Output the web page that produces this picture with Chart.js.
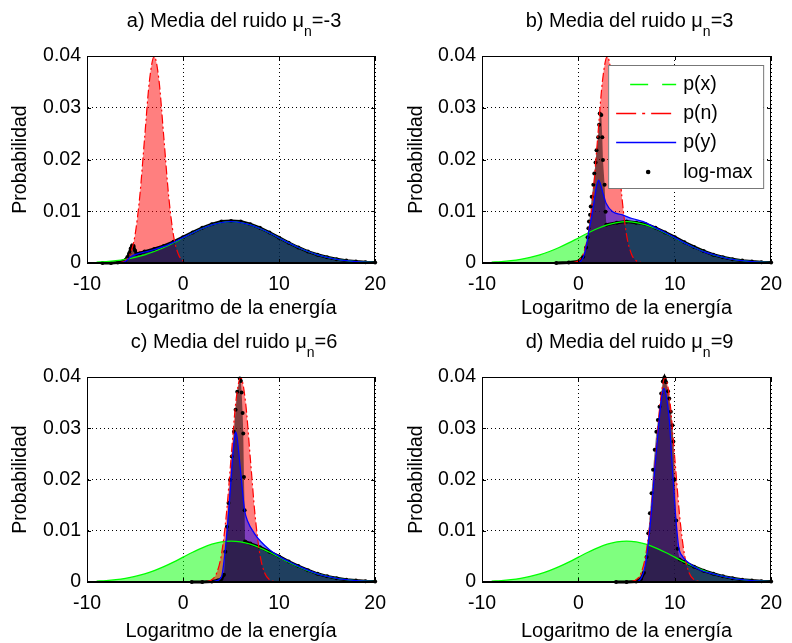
<!DOCTYPE html>
<html>
<head>
<meta charset="utf-8">
<title>Media del ruido - log-max</title>
<script src="https://cdn.jsdelivr.net/npm/chart.js@4.4.0/dist/chart.umd.min.js"></script>
<style>
  html, body { margin: 0; padding: 0; background: #fff; }
  #wrap { position: relative; width: 792px; height: 643px; overflow: hidden; }
  #wrap canvas { position: absolute; }
</style>
</head>
<body>
<div id="wrap">
  <canvas id="chartA" width="396" height="323" style="left:0;top:0"></canvas>
  <canvas id="chartB" width="396" height="323" style="left:396px;top:0"></canvas>
  <canvas id="chartC" width="396" height="322" style="left:0;top:321px"></canvas>
  <canvas id="chartD" width="396" height="322" style="left:396px;top:321px"></canvas>
</div>
<script>
// etiquetas y ejes
const panelLetters = ['a', 'b', 'c', 'd'];
const noiseMeans = [-3, 3, 6, 9];
const xTickValues = [-10, 0, 10, 20];
const xTickLabels = ['-10', '0', '10', '20'];
const yTickValues = [0, 0.01, 0.02, 0.03, 0.04];
const yTickLabels = ['0', '0.01', '0.02', '0.03', '0.04'];
const legendLabels = ['p(x)', 'p(n)', 'p(y)', 'log-max'];

// p(x): igual en los cuatro paneles
const pxX = [-9, -8, -7, -6, -5, -4, -3, -2, -1, 0, 1, 2, 3, 4, 5, 6, 7, 8, 9, 10, 11, 12, 13, 14, 15, 16, 17, 18, 19, 20];
const pxY = [0.00016, 0.00027, 0.00045, 0.00071, 0.00108, 0.00158, 0.00222, 0.00299, 0.00388, 0.00484, 0.0058, 0.00667, 0.00737, 0.00782, 0.00798,
  0.00782, 0.00737, 0.00667, 0.0058, 0.00484, 0.00388, 0.00299, 0.00222, 0.00158, 0.00108, 0.00071, 0.00045, 0.00027, 0.00016, 0.00009];

// p(n): misma forma, distinta media
const noiseY = [0.00009, 0.00044, 0.00175, 0.0054, 0.013, 0.0242, 0.0352, 0.0399, 0.0352, 0.0242, 0.013, 0.0054, 0.00175, 0.00044, 0.00009];
const noiseXa = [-6.5, -6, -5.5, -5, -4.5, -4, -3.5, -3, -2.5, -2, -1.5, -1, -0.5, 0, 0.5];
const noiseXb = [-0.5, 0, 0.5, 1, 1.5, 2, 2.5, 3, 3.5, 4, 4.5, 5, 5.5, 6, 6.5];
const noiseXc = [2.5, 3, 3.5, 4, 4.5, 5, 5.5, 6, 6.5, 7, 7.5, 8, 8.5, 9, 9.5];
const noiseXd = [5.5, 6, 6.5, 7, 7.5, 8, 8.5, 9, 9.5, 10, 10.5, 11, 11.5, 12, 12.5];

// p(y)
const pyXa = [-6.5, -6, -5.5, -5, -4, -3, -2, -1, 0, 1, 2, 3, 4, 5, 6, 7, 8, 9, 10, 11, 12, 13, 14, 15, 16, 17, 18, 19, 20];
const pyYa = [0, 0.0003, 0.0011, 0.0016, 0.0021, 0.0026, 0.0032, 0.004, 0.0049, 0.0058, 0.00667, 0.00737, 0.00782, 0.00798, 0.00782,
  0.00737, 0.00667, 0.0058, 0.00484, 0.00388, 0.00299, 0.00222, 0.00158, 0.00108, 0.00071, 0.00045, 0.00027, 0.00016, 0.00009];
const pyXb = [0, 0.2, 0.54, 0.87, 1.1, 1.38, 1.71, 1.9, 2.11, 2.3, 2.55, 2.89, 3.56, 4.57, 5.57, 6.74, 8, 9, 10, 11, 12, 13, 14, 15, 16, 17, 18, 19, 20];
const pyYb = [0, 0.0003, 0.0012, 0.0038, 0.0064, 0.0089, 0.0128, 0.015, 0.016, 0.0152, 0.0135, 0.0115, 0.0099, 0.0093, 0.0086, 0.008,
  0.0068, 0.0059, 0.0049, 0.0039, 0.003, 0.0022, 0.0016, 0.0011, 0.00071, 0.00045, 0.00027, 0.00016, 0.00009];
const pyXc = [3, 3.4, 4, 4.35, 4.6, 4.8, 4.98, 5.17, 5.35, 5.47, 5.6, 5.74, 6.08, 6.41, 6.74, 7.42, 8.09, 9, 10, 11, 12, 13, 14, 15, 16, 17, 18, 19, 20];
const pyYc = [0, 0.0002, 0.001, 0.0055, 0.0105, 0.015, 0.0195, 0.0245, 0.028, 0.0293, 0.0285, 0.0264, 0.0199, 0.014, 0.0118, 0.0095, 0.0079,
  0.0063, 0.005, 0.004, 0.0031, 0.0023, 0.0016, 0.0011, 0.00071, 0.00045, 0.00027, 0.00016, 0.00009];
const pyXd = [5.9, 6.24, 6.58, 6.91, 7.25, 7.59, 7.92, 8.3, 8.6, 8.86, 9.1, 9.43, 9.76, 10.1, 10.4, 10.8, 11.27, 12, 12.95, 14, 15, 16, 17, 18, 19, 20];
const pyYd = [0, 0.0002, 0.001, 0.003, 0.0075, 0.014, 0.0219, 0.03, 0.0355, 0.0378, 0.0365, 0.0316, 0.0219, 0.0127, 0.0069, 0.005, 0.004, 0.003, 0.0021,
  0.0016, 0.0011, 0.00071, 0.00045, 0.00027, 0.00016, 0.00009];

// aproximacion log-max
const lmXa = [-8.4, -7.5, -6.8, -6.3, -6, -5.8, -5.6, -5.45, -5.3, -5.15, -5, -4.85, -4.5, -4,
  -3, -2, -1, 0, 1, 2, 3, 4, 5, 6, 7, 8, 9, 10, 11, 12, 13, 14, 15, 16, 17, 18, 19, 20];
const lmYa = [0, 0, 0.0001, 0.0003, 0.0006, 0.0011, 0.0019, 0.0028, 0.0034, 0.0033, 0.0024, 0.0018, 0.0019, 0.0022,
  0.0027, 0.0033, 0.0041, 0.005, 0.0059, 0.0068, 0.0075, 0.008, 0.0081, 0.008, 0.0075, 0.0068, 0.0059, 0.0049, 0.0039, 0.003, 0.0022, 0.0016, 0.0011, 0.00072, 0.00046, 0.00028, 0.00016, 0.0001];
const lmXb = [-2.3, -1, 0, 0.5, 0.8, 0.95, 1.04, 1.1, 1.21, 1.28, 1.38, 1.55, 1.65, 1.78, 1.88, 2.05, 2.15, 2.21, 2.38, 2.48, 2.55, 2.72, 2.82, 2.9,
  4, 5, 6, 7, 8, 9, 10, 11, 12, 13, 14, 15, 16, 17, 18, 19, 20];
const lmYb = [0, 0.0001, 0.0003, 0.0012, 0.003, 0.005, 0.0067, 0.008, 0.0093, 0.0109, 0.0128, 0.0151, 0.0173, 0.0194, 0.0218, 0.0243, 0.0267, 0.0289, 0.0286, 0.0243, 0.0199, 0.0151, 0.0099, 0.0074,
  0.0078, 0.008, 0.0078, 0.0075, 0.0068, 0.0059, 0.005, 0.004, 0.0031, 0.0023, 0.0016, 0.0011, 0.00072, 0.00046, 0.00028, 0.00016, 0.0001];
const lmXc = [0.9, 2, 3, 3.6, 4, 4.26, 4.4, 4.57, 4.73, 4.9, 5.07, 5.3, 5.47, 5.64, 5.91, 6.02, 6.1, 6.2, 6.27, 6.34, 6.41, 6.45,
  7, 8, 9, 10, 11, 12, 13, 14, 15, 16, 17, 18, 19, 20];
const lmYc = [0, 0, 0.0001, 0.0003, 0.0006, 0.0014, 0.0059, 0.0108, 0.0154, 0.0199, 0.0245, 0.0293, 0.0336, 0.0371, 0.0397, 0.0392, 0.037, 0.033, 0.029, 0.0205, 0.014, 0.0079,
  0.0075, 0.0068, 0.0059, 0.005, 0.004, 0.0031, 0.0023, 0.0016, 0.0011, 0.00072, 0.00046, 0.00028, 0.00016, 0.0001];
const lmXd = [3.9, 5, 6, 6.5, 6.8, 7.08, 7.25, 7.42, 7.59, 7.75, 7.92, 8.09, 8.25, 8.42, 8.59, 8.76, 8.93, 9.1, 9.3, 9.43, 9.59, 9.76, 9.86, 10, 10.15, 10.3, 10.5,
  11, 12, 13, 14, 15, 16, 17, 18, 19, 20];
const lmYd = [0, 0, 0.0001, 0.0006, 0.0018, 0.0049, 0.0095, 0.0134, 0.0173, 0.0219, 0.0258, 0.0293, 0.0316, 0.0342, 0.0368, 0.0391, 0.0399, 0.039, 0.0372, 0.0358, 0.0332, 0.0306, 0.0274, 0.02, 0.012, 0.0065, 0.0044,
  0.0039, 0.003, 0.0022, 0.0016, 0.0011, 0.00072, 0.00046, 0.00028, 0.00016, 0.0001];

const FONT = '"Liberation Sans", Arial, Helvetica, sans-serif';
Chart.defaults.font.family = FONT;
Chart.defaults.color = '#000';

function pts(xs, ys) {
  return xs.map((x, i) => ({ x: x, y: ys[i] }));
}

// los tramos muy empinados del log-max solo se ven como puntos
function steepSegment(ctx) {
  const dx = Math.abs(ctx.p1.x - ctx.p0.x);
  const dy = Math.abs(ctx.p1.y - ctx.p0.y);
  return dy > 2 * dx + 2 ? 'rgba(0,0,0,0)' : '#000';
}

const panelDecor = {
  id: 'panelDecor',
  afterDatasetsDraw(chart, args, opts) {
    const { ctx, chartArea: a, scales } = chart;
    ctx.save();
    ctx.strokeStyle = '#000';
    ctx.lineWidth = 1;
    ctx.setLineDash([]);
    ctx.strokeRect(Math.round(a.left) + 0.5, Math.round(a.top) + 0.5, Math.round(a.width) - 1, Math.round(a.height) - 1);
    ctx.beginPath();
    xTickValues.forEach(v => {
      const px = Math.round(scales.x.getPixelForValue(v)) + 0.5;
      ctx.moveTo(px, a.bottom); ctx.lineTo(px, a.bottom - 4);
      ctx.moveTo(px, a.top); ctx.lineTo(px, a.top + 4);
    });
    yTickValues.forEach(v => {
      const py = Math.round(scales.y.getPixelForValue(v)) + 0.5;
      ctx.moveTo(a.left, py); ctx.lineTo(a.left + 4, py);
      ctx.moveTo(a.right, py); ctx.lineTo(a.right - 4, py);
    });
    ctx.stroke();
    ctx.restore();
  },
  afterDraw(chart, args, opts) {
    const { ctx, chartArea: a } = chart;
    ctx.save();
    ctx.fillStyle = '#000';
    ctx.textBaseline = 'alphabetic';
    ctx.textAlign = 'left';

    // titulo con subindice
    const main = opts.letter + ') Media del ruido \u03bc';
    const tail = '=' + opts.mean;
    ctx.font = '20px ' + FONT;
    const w1 = ctx.measureText(main).width;
    const w3 = ctx.measureText(tail).width;
    ctx.font = '14px ' + FONT;
    const w2 = ctx.measureText('n').width;
    const x = (a.left + a.right) / 2 - (w1 + w2 + w3) / 2 + 3;
    const y = a.top - 29;
    ctx.font = '20px ' + FONT;
    ctx.fillText(main, x, y);
    ctx.font = '14px ' + FONT;
    ctx.fillText('n', x + w1, y + 9);
    ctx.font = '20px ' + FONT;
    ctx.fillText(tail, x + w1 + w2, y);

    if (opts.legend) {
      const bx = a.right - 163, by = a.top + 9, bw = 155, bh = 123;
      ctx.fillStyle = '#fff';
      ctx.fillRect(bx, by, bw, bh);
      ctx.strokeStyle = '#777';
      ctx.lineWidth = 1;
      ctx.strokeRect(bx + 0.5, by + 0.5, bw, bh);
      const rows = [by + 19, by + 48, by + 77, by + 107];
      const colors = ['#00ff00', '#ff0000', '#0000ff'];
      const dashes = [[18, 14], [20, 6, 3, 6], []];
      const starts = [bx + 22, bx + 8, bx + 8];
      for (let i = 0; i < 3; i++) {
        ctx.beginPath();
        ctx.strokeStyle = colors[i];
        ctx.lineWidth = 1.3;
        ctx.setLineDash(dashes[i]);
        ctx.moveTo(starts[i], rows[i] + 0.5);
        ctx.lineTo(bx + 68, rows[i] + 0.5);
        ctx.stroke();
      }
      ctx.setLineDash([]);
      ctx.fillStyle = '#000';
      ctx.beginPath();
      ctx.arc(bx + 40, rows[3], 2.3, 0, Math.PI * 2);
      ctx.fill();
      ctx.font = '19.5px ' + FONT;
      ctx.textBaseline = 'middle';
      legendLabels.forEach((t, i) => ctx.fillText(t, bx + 75, rows[i] + 1));
    }
    ctx.restore();
  }
};

function makeChart(id, idx, p) {
  const monotone = { cubicInterpolationMode: 'monotone', pointRadius: 0 };
  const datasets = [
    // rellenos (se pintan antes que las lineas)
    Object.assign({ data: pts(pxX, pxY), fill: 'origin', backgroundColor: 'rgba(0,255,0,0.5)', borderWidth: 0, order: 8 }, monotone),
    Object.assign({ data: pts(p.noiseX, noiseY), fill: 'origin', backgroundColor: 'rgba(255,0,0,0.5)', borderWidth: 0, order: 7 }, monotone),
    Object.assign({ data: pts(p.pyX, p.pyY), fill: 'origin', backgroundColor: 'rgba(0,0,255,0.5)', borderWidth: 0, order: 6 }, monotone),
    { data: pts(p.lmX, p.lmY), fill: 'origin', backgroundColor: 'rgba(0,0,0,0.5)', borderWidth: 0, pointRadius: 0, tension: 0, order: 5 },
    // lineas
    {
      data: pts(p.lmX, p.lmY), fill: false, borderColor: '#000', borderWidth: 3, tension: 0, clip: false,
      pointRadius: 2, pointBackgroundColor: '#000', pointBorderWidth: 0,
      segment: { borderColor: steepSegment }, order: 4
    },
    Object.assign({ data: pts(pxX, pxY), fill: false, borderColor: '#00ff00', borderWidth: 1.3, order: 3 }, monotone),
    Object.assign({ data: pts(p.noiseX, noiseY), fill: false, borderColor: '#ff0000', borderWidth: 1.2, borderDash: [9, 3, 2, 3], order: 2 }, monotone),
    Object.assign({ data: pts(p.pyX, p.pyY), fill: false, borderColor: '#0000ff', borderWidth: 1.3, order: 1 }, monotone)
  ];

  return new Chart(document.getElementById(id), {
    type: 'line',
    data: { datasets: datasets },
    plugins: [panelDecor],
    options: {
      responsive: false,
      animation: false,
      devicePixelRatio: 1,
      events: [],
      layout: { padding: { left: 0, right: p.rightPad, top: 56, bottom: 0 } },
      plugins: {
        legend: { display: false },
        tooltip: { enabled: false },
        filler: { drawTime: 'beforeDatasetsDraw' },
        panelDecor: { letter: panelLetters[idx], mean: noiseMeans[idx], legend: p.legend }
      },
      scales: {
        x: {
          type: 'linear',
          min: -10,
          max: 20,
          afterBuildTicks: s => { s.ticks = xTickValues.map(v => ({ value: v })); },
          afterFit: s => { s.height = p.xHeight; },
          ticks: { font: { size: 19.5 }, padding: 10, maxRotation: 0, callback: (v, i) => xTickLabels[i] },
          grid: { color: '#000', lineWidth: 1, drawTicks: false },
          border: { display: true, color: '#000', dash: [1, 3] },
          title: { display: true, text: 'Logaritmo de la energía', font: { size: 20 }, padding: { top: 0, bottom: p.xTitlePad } }
        },
        y: {
          min: 0,
          max: 0.04,
          afterBuildTicks: s => { s.ticks = yTickValues.map(v => ({ value: v })); },
          afterFit: s => { s.width = p.yWidth; },
          ticks: { font: { size: 19.5 }, padding: 6, callback: (v, i) => yTickLabels[i] },
          grid: { color: '#000', lineWidth: 1, drawTicks: false },
          border: { display: true, color: '#000', dash: [1, 3] },
          title: { display: true, text: 'Probabilidad', font: { size: 19.5 }, padding: { top: 9, bottom: 0 } }
        }
      }
    }
  });
}

makeChart('chartA', 0, { noiseX: noiseXa, pyX: pyXa, pyY: pyYa, lmX: lmXa, lmY: lmYa, yWidth: 87, rightPad: 11, xHeight: 60, xTitlePad: 3, legend: false });
makeChart('chartB', 1, { noiseX: noiseXb, pyX: pyXb, pyY: pyYb, lmX: lmXb, lmY: lmYb, yWidth: 86, rightPad: 12, xHeight: 60, xTitlePad: 3, legend: true });
makeChart('chartC', 2, { noiseX: noiseXc, pyX: pyXc, pyY: pyYc, lmX: lmXc, lmY: lmYc, yWidth: 87, rightPad: 11, xHeight: 61, xTitlePad: 0, legend: false });
makeChart('chartD', 3, { noiseX: noiseXd, pyX: pyXd, pyY: pyYd, lmX: lmXd, lmY: lmYd, yWidth: 86, rightPad: 12, xHeight: 61, xTitlePad: 0, legend: false });
</script>
</body>
</html>
